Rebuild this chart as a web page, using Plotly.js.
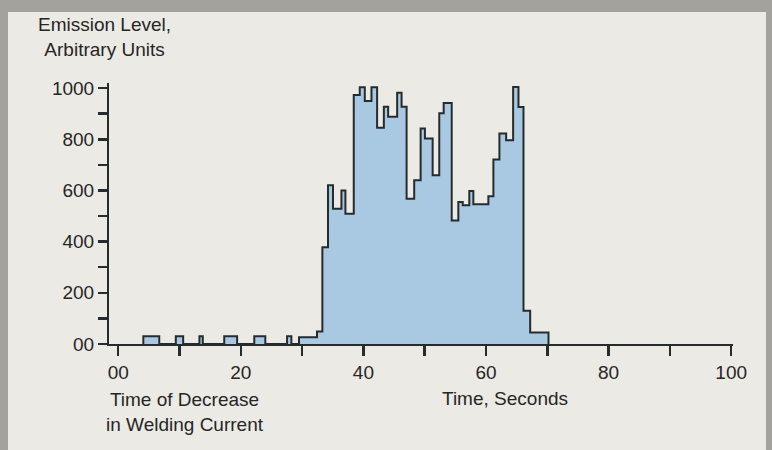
<!DOCTYPE html>
<html><head><meta charset="utf-8">
<script src="https://cdn.plot.ly/plotly-3.0.1.min.js"></script>
<style>html,body{margin:0;padding:0;background:#a3a29d;}#plot{width:772px;height:450px;}</style>
</head><body><div id="plot"></div>
<script>
// Step edges (seconds) and emission level within each step
const stepEdges = [4.1, 6.7, 9.4, 10.6, 13.25, 13.8, 17.3, 19.4, 22.2, 24.0, 27.55, 28.25, 29.5,
  32.43, 33.31, 34.23, 35.04, 36.42, 37.07, 38.43, 39.41, 40.23, 41.32, 42.24, 43.34, 44.04,
  45.51, 46.23, 47.05, 48.29, 49.34, 50.04, 51.30, 52.38, 53.1, 54.41, 55.49, 56.21, 57.28,
  57.94, 60.39, 61.21, 62.19, 63.29, 64.43, 65.30, 66.12, 67.21, 70.2];
const stepLevels = [30, 0, 30, 0, 30, 0, 30, 0, 30, 0, 30, 0, 26,
  49, 378, 620, 529, 600, 509, 973, 1003, 950, 1003, 845, 927,
  888, 982, 927, 568, 640, 842, 803, 659, 902, 942, 483, 555, 542,
  598, 546, 577, 721, 823, 796, 1004, 926, 130, 45];
const xTickVals = [0,10,20,30,40,50,60,70,80,90,100];
const xTickText = ['00','','20','','40','','60','','80','','100'];
const yTickVals = [0,100,200,300,400,500,600,700,800,900,1000];
const yTickText = ['00','','200','','400','','600','','800','','1000'];
const yTitle = 'Emission Level,<br>Arbitrary Units';
const xTitle = 'Time, Seconds';
const xNote = 'Time of Decrease<br>in Welding Current';

// build outline path from steps
const xs = [], ys = [];
let prev = 0;
for (let i = 0; i < stepLevels.length; i++) {
  xs.push(stepEdges[i], stepEdges[i]);
  ys.push(prev, stepLevels[i]);
  prev = stepLevels[i];
}
xs.push(stepEdges[stepEdges.length-1], stepEdges[stepEdges.length-1]);
ys.push(prev, 0);

const W = 772, H = 450, L = 109, R = 733, T = 83, B = 344;
const fx = p => (p - L) / (R - L);
const fy = p => (B - p) / (B - T);
const ink = '#262b2b';
const font = {family: 'Liberation Sans, Arial, sans-serif', size: 19, color: '#262626'};
const tfont = {family: 'Liberation Sans, Arial, sans-serif', size: 19, color: '#262626'};

const trace = {
  x: xs, y: ys, type: 'scatter', mode: 'lines',
  line: {color: ink, width: 2, shape: 'linear'},
  fill: 'tozeroy', fillcolor: '#a9c9e2',
  hoverinfo: 'skip', cliponaxis: false
};

const layout = {
  width: W, height: H,
  margin: {l: L, r: W - R, t: T, b: H - B},
  paper_bgcolor: '#a3a29d', plot_bgcolor: 'rgba(0,0,0,0)',
  showlegend: false, font: font,
  xaxis: {
    range: [-1.5, 100.3], tickmode: 'array', tickvals: xTickVals, ticktext: xTickText,
    ticks: 'outside', ticklen: 10, tickwidth: 2.5, tickcolor: ink,
    showline: true, linecolor: ink, linewidth: 2, showgrid: false, zeroline: false,
    tickfont: tfont, fixedrange: true
  },
  yaxis: {
    range: [0, 1020], tickmode: 'array', tickvals: yTickVals, ticktext: yTickText,
    ticks: 'outside', ticklen: 9, tickwidth: 2.5, tickcolor: ink,
    showline: true, linecolor: ink, linewidth: 2, showgrid: false, zeroline: false,
    tickfont: tfont, fixedrange: true
  },
  shapes: [
    {type: 'rect', xref: 'paper', yref: 'paper', layer: 'below',
     x0: fx(8), x1: fx(766), y0: fy(12), y1: fy(452),
     fillcolor: '#eceae4', line: {width: 0}}
  ],
  annotations: [
    {text: yTitle, xref: 'paper', yref: 'paper', x: fx(104), y: fy(37), xanchor: 'center', yanchor: 'middle', showarrow: false, font: font},
    {text: xTitle, xref: 'paper', yref: 'paper', x: fx(505), y: fy(398), xanchor: 'center', yanchor: 'middle', showarrow: false, font: font},
    {text: xNote, xref: 'paper', yref: 'paper', x: fx(185), y: fy(412), xanchor: 'center', yanchor: 'middle', showarrow: false, font: font}
  ]
};

Plotly.newPlot('plot', [trace], layout, {displayModeBar: false, staticPlot: true});
</script></body></html>
